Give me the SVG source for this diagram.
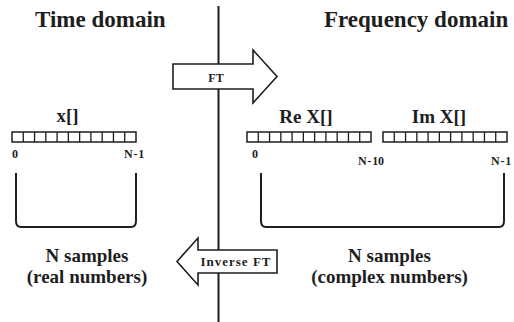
<svg xmlns="http://www.w3.org/2000/svg" width="514" height="322" viewBox="0 0 514 322">
  <style>
    text { font-family: 'Liberation Serif', 'DejaVu Serif', serif; font-weight: 700; fill: #1e1e1e; }
    .title { font-size: 23px; }
    .name { font-size: 19px; text-anchor: middle; }
    .idx { font-size: 12px; letter-spacing: 0.8px; }
    .caption { font-size: 19px; text-anchor: middle; }
    .cell { fill: #fff; stroke: #1e1e1e; stroke-width: 1.5; }
    .brace { fill: none; stroke: #1e1e1e; stroke-width: 2; }
    .arrow { fill: #fff; stroke: #1e1e1e; stroke-width: 1.6; stroke-linejoin: miter; }
    .divider { stroke: #1e1e1e; stroke-width: 2; }
  </style>
  <defs>
    <!-- one 11-cell sample array, 124 x 10 -->
    <g id="cells">
      <rect class="cell" x="0" y="0" width="124" height="10"/>
      <path d="M11.27 0V10M22.55 0V10M33.82 0V10M45.09 0V10M56.36 0V10M67.64 0V10M78.91 0V10M90.18 0V10M101.45 0V10M112.73 0V10" stroke="#1e1e1e" stroke-width="1.3" fill="none"/>
    </g>
  </defs>
  <rect width="514" height="322" fill="#fff"/>

  <!-- divider between the two domains -->
  <line class="divider" x1="218.5" y1="6" x2="218.5" y2="322"/>

  <text class="title" x="35" y="27">Time domain</text>
  <text class="title" x="324" y="27">Frequency domain</text>

  <!-- time-domain signal -->
  <g id="time-array">
    <text class="name" x="67.5" y="122">x[]</text>
    <use href="#cells" x="12" y="132"/>
    <text class="idx" x="12" y="158">0</text>
    <text class="idx" x="124" y="158">N-1</text>
  </g>

  <!-- real part -->
  <g id="re-array">
    <text class="name" x="306" y="123">Re X[]</text>
    <use href="#cells" x="247" y="132"/>
    <text class="idx" x="252" y="158">0</text>
    <text class="idx" x="358" y="165">N-1</text>
  </g>

  <!-- imaginary part -->
  <g id="im-array">
    <text class="name" x="439" y="123">Im X[]</text>
    <use href="#cells" x="383" y="132"/>
    <text class="idx" x="378" y="165">0</text>
    <text class="idx" x="491" y="165">N-1</text>
  </g>

  <g id="time-span">
    <path class="brace" d="M16 173V221Q16 227 21 227H131Q136 227 136 221V173"/>
    <text class="caption" x="87" y="262">N samples</text>
    <text class="caption" x="87" y="283">(real numbers)</text>
  </g>

  <g id="freq-span">
    <path class="brace" d="M261 173V221Q261 227 266 227H499Q504 227 504 221V173"/>
    <text class="caption" x="389.5" y="262">N samples</text>
    <text class="caption" x="389.5" y="283">(complex numbers)</text>
  </g>

  <g id="connectors">
    <g id="forward">
      <polygon class="arrow" points="173,64 253,64 253,50 277,76.5 253,103 253,89 173,89"/>
      <text x="216" y="81.5" font-size="12" text-anchor="middle">FT</text>
    </g>
    <g id="inverse">
      <polygon class="arrow" points="277,250 198,250 198,238 177,261.5 198,285 198,273 277,273"/>
      <text x="236" y="266" font-size="13" letter-spacing="1" text-anchor="middle">Inverse FT</text>
    </g>
  </g>
</svg>
